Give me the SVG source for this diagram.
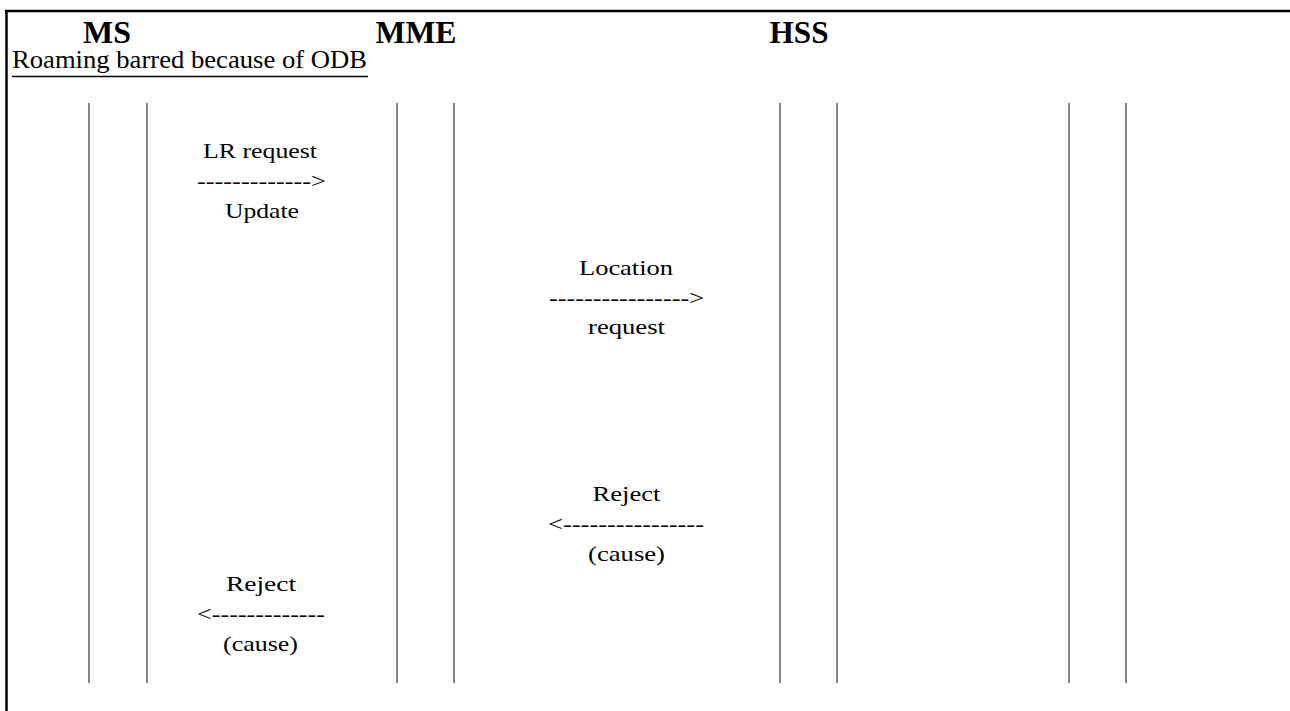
<svg xmlns="http://www.w3.org/2000/svg" width="1290" height="711" viewBox="0 0 1290 711">
<style>
.hdr{font-family:"Liberation Serif","Times New Roman",serif;font-weight:bold;font-size:31px;fill:#000;text-anchor:middle}
.lbl{font-family:"Liberation Serif","Times New Roman",serif;font-size:21px;fill:#000;text-anchor:middle}
.ttl{font-family:"Liberation Serif","Times New Roman",serif;font-size:26px;fill:#000}
.life{stroke:#333;stroke-width:1.2;fill:none}
.frame{stroke:#000;stroke-width:2.5;fill:none}
</style>
<rect x="0" y="0" width="1290" height="711" fill="#fff"/>
<g id="frame">
<line class="frame" x1="5" y1="11" x2="1290" y2="11"/>
<line class="frame" x1="6.5" y1="10" x2="6.5" y2="711"/>
</g>
<g id="title">
<text class="ttl" x="12" y="68" textLength="355" lengthAdjust="spacingAndGlyphs">Roaming barred because of ODB</text>
<line x1="12" y1="76.5" x2="368" y2="76.5" stroke="#000" stroke-width="1.5"/>
</g>
<g id="node-ms">
<text class="hdr" x="107" y="43" textLength="48" lengthAdjust="spacingAndGlyphs">MS</text>
<line class="life" x1="89" y1="103" x2="89" y2="683"/>
<line class="life" x1="147" y1="103" x2="147" y2="683"/>
</g>
<g id="node-mme">
<text class="hdr" x="416" y="43" textLength="81" lengthAdjust="spacingAndGlyphs">MME</text>
<line class="life" x1="397" y1="103" x2="397" y2="683"/>
<line class="life" x1="454" y1="103" x2="454" y2="683"/>
</g>
<g id="node-hss">
<text class="hdr" x="799" y="43" textLength="59" lengthAdjust="spacingAndGlyphs">HSS</text>
<line class="life" x1="780" y1="103" x2="780" y2="683"/>
<line class="life" x1="837" y1="103" x2="837" y2="683"/>
</g>
<g id="node-extra">
<line class="life" x1="1069" y1="103" x2="1069" y2="683"/>
<line class="life" x1="1126" y1="103" x2="1126" y2="683"/>
</g>
<g id="connectors">
<g id="msg-lr">
<text class="lbl" x="260" y="158" textLength="114" lengthAdjust="spacingAndGlyphs">LR request</text>
<text class="lbl" x="261.5" y="188" textLength="129" lengthAdjust="spacingAndGlyphs">-------------&gt;</text>
<text class="lbl" x="262" y="218" textLength="74" lengthAdjust="spacingAndGlyphs">Update</text>
</g>
<g id="msg-loc">
<text class="lbl" x="626" y="275" textLength="94" lengthAdjust="spacingAndGlyphs">Location</text>
<text class="lbl" x="626.5" y="305" textLength="155" lengthAdjust="spacingAndGlyphs">----------------&gt;</text>
<text class="lbl" x="626.5" y="334" textLength="77" lengthAdjust="spacingAndGlyphs">request</text>
</g>
<g id="msg-rej1">
<text class="lbl" x="626.5" y="501" textLength="68" lengthAdjust="spacingAndGlyphs">Reject</text>
<text class="lbl" x="626" y="531" textLength="156" lengthAdjust="spacingAndGlyphs">&lt;----------------</text>
<text class="lbl" x="626.5" y="561" textLength="77" lengthAdjust="spacingAndGlyphs">(cause)</text>
</g>
<g id="msg-rej2">
<text class="lbl" x="261" y="591" textLength="70" lengthAdjust="spacingAndGlyphs">Reject</text>
<text class="lbl" x="261" y="621" textLength="128" lengthAdjust="spacingAndGlyphs">&lt;-------------</text>
<text class="lbl" x="260.5" y="651" textLength="75" lengthAdjust="spacingAndGlyphs">(cause)</text>
</g>
</g>
</svg>
